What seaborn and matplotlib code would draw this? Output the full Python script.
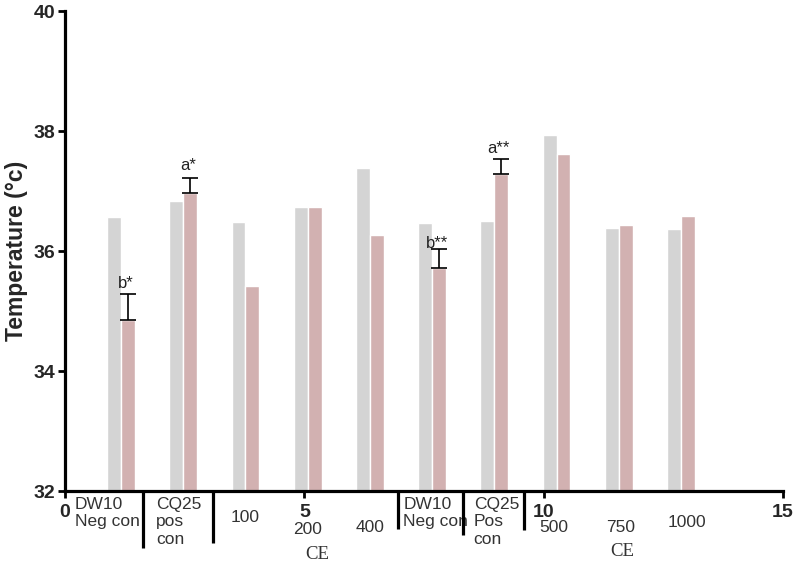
import matplotlib
matplotlib.use("Agg")
import matplotlib.pyplot as plt
import numpy as np
import pandas as pd
import seaborn as sns

# values
groups = ["DW10 Neg con", "CQ25 pos con", "100", "200", "400",
          "DW10 Neg con (2)", "CQ25 Pos con (2)", "500", "750", "1000"]
grey_temp = [36.57, 36.83, 36.48, 36.74, 37.39, 36.46, 36.50, 37.93, 36.39, 36.36]
pink_temp = [34.85, 36.96, 35.42, 36.74, 36.26, 35.72, 37.29, 37.61, 36.43, 36.59]
pink_err = [0.43, 0.26, 0.0, 0.0, 0.0, 0.32, 0.24, 0.0, 0.0, 0.0]
sig_labels = ["b*", "a*", "", "", "", "b**", "a**", "", "", ""]
x_ticks = [0, 5, 10, 15]

sns.set_theme(style="ticks")
plt.rcParams["font.family"] = ["Liberation Sans", "DejaVu Sans"]

GREY = "#d4d4d4"
PINK = "#d8abac"

# layout: pairs spaced 1.3 units apart
pair_pos = 1.17 + 1.3 * np.arange(len(groups))
half = 0.145

df = pd.DataFrame({
    "pos": np.concatenate([pair_pos, pair_pos]),
    "temp": grey_temp + pink_temp,
    "series": ["grey"] * len(groups) + ["pink"] * len(groups),
})

fig = plt.figure(figsize=(7.95, 5.62), dpi=100)
ax = fig.add_axes([0.0818, 0.1263, 0.903, 0.854])

sns.barplot(data=df, x="pos", y="temp", hue="series", native_scale=True,
            width=0.58 / 1.3, dodge=True, palette=[GREY, PINK],
            edgecolor="white", linewidth=1.0, errorbar=None, legend=False, ax=ax)

# one-sided error bars on the pink series
pink_x = pair_pos + half
err = np.array(pink_err)
mask = err > 0
ax.errorbar(pink_x[mask], np.array(pink_temp)[mask],
            yerr=[np.zeros(mask.sum()), err[mask]], fmt="none",
            ecolor="black", elinewidth=1.2, capsize=6, capthick=1.2, zorder=5)

offsets = {0: 0.05, 1: 0.08, 5: -0.04, 6: 0.05}
for i, lab in enumerate(sig_labels):
    if not lab:
        continue
    top = pink_temp[i] + pink_err[i]
    ax.text(pink_x[i] - 0.05, top + offsets[i], lab, ha="center", va="bottom",
            fontsize=12, color="#222222")

ax.set_xlim(0, 15)
ax.set_ylim(32, 40)
ax.set_xticks(x_ticks)
ax.set_xticklabels([str(t) for t in x_ticks], fontweight="bold", fontsize=14)
ax.set_yticks([32, 34, 36, 38, 40])
ax.set_yticklabels(["32", "34", "36", "38", "40"], fontweight="bold", fontsize=14)
ax.set_xlabel("")
ax.set_ylabel("Temperature (\u00b0c)", fontweight="bold", fontsize=16.5, labelpad=4)

sns.despine(ax=ax)
for side in ["left", "bottom"]:
    ax.spines[side].set_linewidth(2.3)
    ax.spines[side].set_color("black")
ax.tick_params(axis="both", width=2, length=5, color="black", pad=2)
ax.tick_params(axis="x", pad=4)

# category labels under the axis
trans = ax.get_xaxis_transform()
lab_kw = dict(transform=trans, fontsize=12.5, color="#333333", clip_on=False)
ax.text(0.21, -0.012, "DW10\nNeg con", ha="left", va="top", linespacing=1.2, **lab_kw)
ax.text(1.90, -0.012, "CQ25\npos\ncon", ha="left", va="top", linespacing=1.2, **lab_kw)
ax.text(3.77, -0.056, "100", ha="center", va="center", **lab_kw)
ax.text(5.07, -0.081, "200", ha="center", va="center", **lab_kw)
ax.text(6.38, -0.075, "400", ha="center", va="center", **lab_kw)
ax.text(7.07, -0.012, "DW10\nNeg con", ha="left", va="top", linespacing=1.2, **lab_kw)
ax.text(8.54, -0.012, "CQ25\nPos\ncon", ha="left", va="top", linespacing=1.2, **lab_kw)
ax.text(10.21, -0.077, "500", ha="center", va="center", **lab_kw)
ax.text(11.61, -0.077, "750", ha="center", va="center", **lab_kw)
ax.text(13.0, -0.065, "1000", ha="center", va="center", **lab_kw)
for cx, cy in [(5.28, -0.133), (11.65, -0.127)]:
    ax.text(cx, cy, "CE", ha="center", va="center", transform=trans, fontsize=13.5,
            family=["Liberation Serif", "DejaVu Serif"], color="#333333", clip_on=False)

# separator lines below the axis
for sx, sy in [(1.63, -0.119), (3.10, -0.108), (6.95, -0.079), (8.31, -0.092), (9.60, -0.081)]:
    ax.plot([sx, sx], [0, sy], transform=trans, color="black", lw=2.3,
            clip_on=False, solid_capstyle="butt", zorder=6)

fig.savefig("out.png", dpi=100)
